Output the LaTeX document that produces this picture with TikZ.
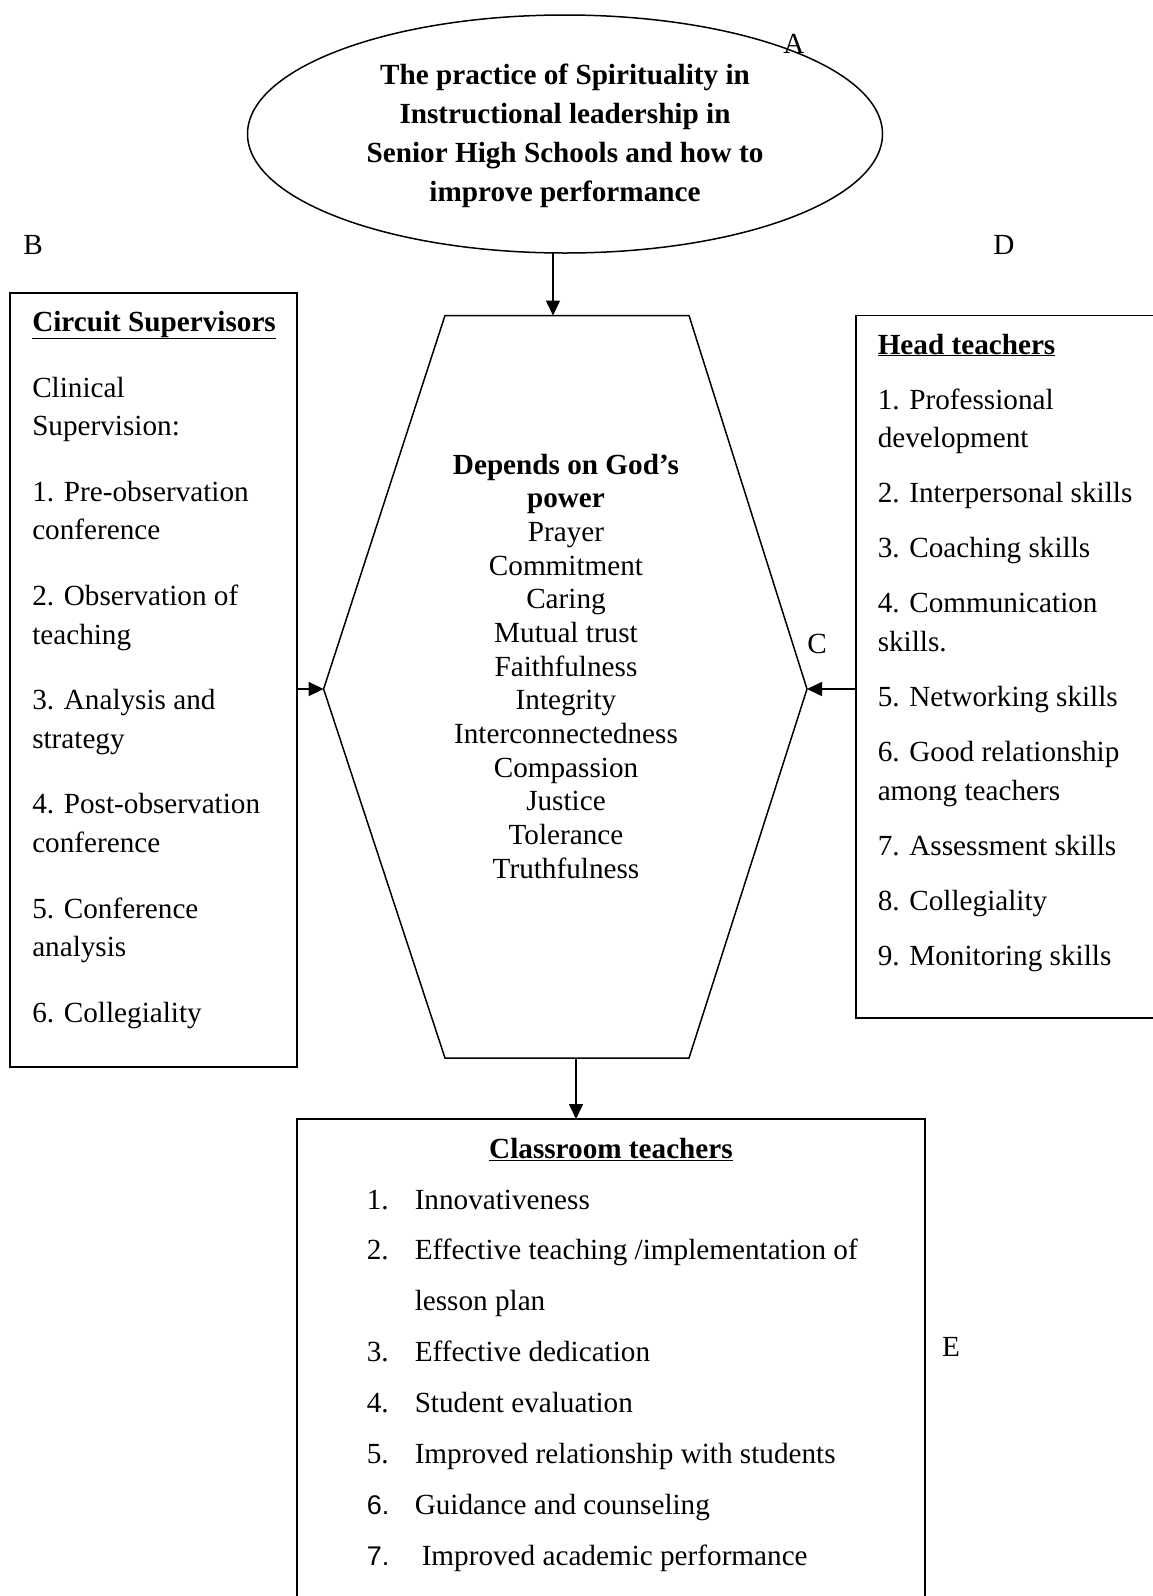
\documentclass[tikz,border=0pt]{standalone}
\usepackage{fontspec}
\setmainfont{Liberation Serif}
\newfontfamily\sansf{Liberation Sans}
\usetikzlibrary{shapes.geometric,arrows.meta}
\begin{document}
\begin{tikzpicture}[x=1pt,y=-1pt,line width=1.5pt,
  txt/.style={inner sep=0pt,anchor=base west,font=\fontsize{29.2}{38.7}\selectfont},
  ctxt/.style={txt,anchor=base},
  arr/.style={-{Triangle[length=15pt,width=14pt]}},
  boxsty/.style={draw,line width=1.5pt,inner sep=0pt,outer sep=0pt,anchor=north west}]
\useasboundingbox (0,0) rectangle (1153,1596);

% ellipse
\node[draw,ellipse,inner sep=0pt,outer sep=0pt,minimum width=635pt,minimum height=238pt] (ell) at (565,134) {};
\foreach \y/\t [count=\i] in {84/The practice of Spirituality in,123/Instructional leadership in,162/Senior High Schools and how to,201/improve performance}
  \node[ctxt,font=\fontsize{29.2}{38.7}\selectfont\bfseries,name=title\i] at (565,\y) {\t};

% letters
\node[ctxt,name=lA] at (794,53) {A};
\node[ctxt,name=lB] at (33,254) {B};
\node[ctxt,name=lD] at (1004,254) {D};
\node[ctxt,name=lC] at (817,653) {C};
\node[ctxt,name=lE] at (951,1356) {E};

% boxes
\node[boxsty,minimum width=287pt,minimum height=774pt] (cs) at (10,293) {};
\node[boxsty,minimum width=330pt,minimum height=702.5pt] (ht) at (856,315.5) {};
\node[boxsty,minimum width=628pt,minimum height=520pt] (ct) at (297,1119) {};

% hexagon
\coordinate (hTL) at (445,315.5);
\coordinate (hTR) at (689,315.5);
\coordinate (hR) at (807,689);
\coordinate (hBR) at (689,1058);
\coordinate (hBL) at (445,1058);
\coordinate (hL) at (323.6,689);
\coordinate (hT) at (553,315.5);
\coordinate (hB) at (576,1058);
\draw (hTL) -- (hTR) -- (hR) -- (hBR) -- (hBL) -- (hL) -- cycle;

% connectors
\draw[arr] (hT |- ell.south) -- (hT);
\draw[arr] (cs.east |- hL) -- (hL);
\draw[arr] (ht.west |- hR) -- (hR);
\draw[arr] (hB) -- (hB |- ct.north);

% left box text
\node[txt,name=csh] at (31.5,331) {\underline{\textbf{Circuit Supervisors}}};
\foreach \y/\t [count=\i] in {397/Clinical,435.7/Supervision:,501.2/1. Pre-observation,539.9/conference,605.4/2. Observation of,644.1/teaching,709.6/3. Analysis and,748.3/strategy,813.8/4. Post-observation,852.5/conference,918/5. Conference,956.7/analysis,1022.2/6. Collegiality}
  \node[txt,name=cs\i] at (31.5,\y) {\t};

% right box text
\node[txt,name=hth] at (877,354) {\underline{\textbf{Head teachers}}};
\foreach \y/\t [count=\i] in {409/1. Professional,447.7/development,502.7/2. Interpersonal skills,557.7/3. Coaching skills,612.7/4. Communication,651.4/skills.,706.4/5. Networking skills,761.4/6. Good relationship,800.1/among teachers,855.1/7. Assessment skills,910.1/8. Collegiality,965.1/9. Monitoring skills}
  \node[txt,name=ht\i] at (877,\y) {\t};

% hexagon text
\node[ctxt,font=\fontsize{29.2}{38.7}\selectfont\bfseries,name=hx0] at (566,474) {Depends on God’s};
\node[ctxt,font=\fontsize{29.2}{38.7}\selectfont\bfseries,name=hx1] at (566,507.7) {power};
\foreach \t [count=\i] in {Prayer,Commitment,Caring,Mutual trust,Faithfulness,Integrity,Interconnectedness,Compassion,Justice,Tolerance,Truthfulness}
  \node[ctxt,name=hv\i] at (566,{507.7+33.67*\i}) {\t};

% bottom box text
\node[ctxt,name=cth] at (611,1158) {\underline{\textbf{Classroom teachers}}};
\node[txt,name=n1] at (366,1209) {1.};
\node[txt,name=c1] at (414,1209) {Innovativeness};
\node[txt,name=n2] at (366,1259.9) {2.};
\node[txt,name=c2] at (414,1259.9) {Effective teaching /implementation of};
\node[txt,name=c2b] at (414,1310.7) {lesson plan};
\node[txt,name=n3] at (366,1361.6) {3.};
\node[txt,name=c3] at (414,1361.6) {Effective dedication};
\node[txt,name=n4] at (366,1412.4) {4.};
\node[txt,name=c4] at (414,1412.4) {Student evaluation};
\node[txt,name=n5] at (366,1463.3) {5.};
\node[txt,name=c5] at (414,1463.3) {Improved relationship with students};
\node[txt,font=\fontsize{27}{38.7}\selectfont\sansf,name=n6] at (366,1514.1) {6.};
\node[txt,name=c6] at (414,1514.1) {Guidance and counseling};
\node[txt,font=\fontsize{27}{38.7}\selectfont\sansf,name=n7] at (366,1565) {7.};
\node[txt,name=c7] at (421,1565) {Improved academic performance};
\end{tikzpicture}
\end{document}
